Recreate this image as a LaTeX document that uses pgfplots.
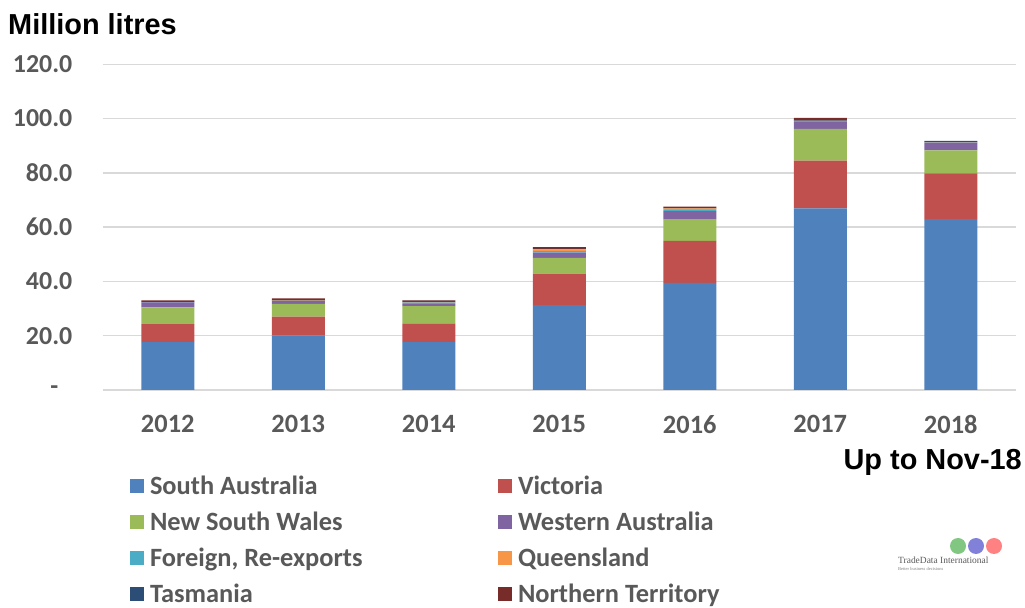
\documentclass[border=0pt]{standalone}
\usepackage{pgfplots}
\pgfplotsset{compat=1.18}
\usepackage{fontspec}
\setmainfont{Carlito}
\newfontfamily\arialfont{Liberation Sans}
\newfontfamily\seriffont{Liberation Serif}
\definecolor{cSA}{HTML}{4F81BD}
\definecolor{cVIC}{HTML}{C0504D}
\definecolor{cNSW}{HTML}{9BBB59}
\definecolor{cWA}{HTML}{8064A2}
\definecolor{cFOR}{HTML}{4BACC6}
\definecolor{cQLD}{HTML}{F79646}
\definecolor{cTAS}{HTML}{2C4D75}
\definecolor{cNT}{HTML}{772C2A}
\definecolor{labgray}{HTML}{595959}
\definecolor{gridgray}{HTML}{D9D9D9}
\begin{document}
\begin{tikzpicture}
\useasboundingbox (0,0) rectangle (1025bp,608bp);
\begin{axis}[
  at={(102.5bp,218bp)}, anchor=south west,
  scale only axis, width=913.5bp, height=325.7bp,
  ybar stacked, bar width=53bp,
  xmin=-0.5, xmax=6.5, ymin=0, ymax=120,
  xtick={0,...,6}, xticklabels={2012,2013,2014,2015,2016,2017,2018},
  ytick={0,20,...,120}, yticklabels={\makebox[22bp][l]{-},20.0,40.0,60.0,80.0,100.0,120.0},
  axis line style={draw=none},
  major tick length=0pt,
  ymajorgrids, grid style={gridgray, line width=1.5bp},
  ticklabel style={font=\fontsize{26}{30}\selectfont\bfseries, text=labgray, inner sep=0pt},
  xticklabel style={font=\fontsize{26.5}{30}\selectfont\bfseries, anchor=north, yshift=-25bp},
  yticklabel style={anchor=east, xshift=-30bp},
  every axis plot post/.append style={draw=none,
     legend image code/.code={\fill[##1] (0bp,1.5bp) rectangle (14bp,15.5bp);}},
  legend columns=2,
  legend style={at={(0.0301,-0.265)}, anchor=north west, draw=none, fill=none,
     inner sep=0pt, outer sep=0pt, row sep=12bp,
     font=\fontsize{26.5}{30}\selectfont\bfseries, text=labgray,
     nodes={inner sep=0pt, text height=18bp, text depth=6bp, anchor=base west},
     /tikz/every odd column/.append style={column sep=6bp},
     /tikz/every even column/.append style={column sep=0bp}},
  legend cell align=left,
]
% South Australia
\addplot[fill=cSA] coordinates {(0,17.6) (1,20.0) (2,17.6) (3,31.3) (4,39.5) (5,66.9) (6,63.0)};
% Victoria
\addplot[fill=cVIC] coordinates {(0,6.7) (1,7.0) (2,6.8) (3,11.6) (4,15.4) (5,17.6) (6,16.8)};
% New South Wales
\addplot[fill=cNSW] coordinates {(0,6.1) (1,4.7) (2,6.5) (3,5.8) (4,8.1) (5,11.7) (6,8.5)};
% Western Australia
\addplot[fill=cWA] coordinates {(0,1.9) (1,1.0) (2,0.7) (3,1.9) (4,2.9) (5,2.5) (6,2.8)};
% Foreign, Re-exports
\addplot[fill=cFOR] coordinates {(0,0.1) (1,0.1) (2,0.6) (3,0.6) (4,0.5) (5,0.4) (6,0.1)};
% Queensland
\addplot[fill=cQLD] coordinates {(0,0.0) (1,0.1) (2,0.1) (3,0.6) (4,0.5) (5,0.1) (6,0.1)};
% Tasmania
\addplot[fill=cTAS] coordinates {(0,0.1) (1,0.1) (2,0.5) (3,0.2) (4,0.1) (5,0.1) (6,0.5)};
% Northern Territory
\addplot[fill=cNT] coordinates {(0,0.5) (1,0.8) (2,0.2) (3,0.6) (4,0.6) (5,1.0) (6,0.0)};
\addlegendentry{\makebox[348bp][l]{South Australia}}
\addlegendentry{Victoria}
\addlegendentry{\makebox[348bp][l]{New South Wales}}
\addlegendentry{Western Australia}
\addlegendentry{\makebox[348bp][l]{Foreign, Re-exports}}
\addlegendentry{Queensland}
\addlegendentry{\makebox[348bp][l]{Tasmania}}
\addlegendentry{Northern Territory}
\end{axis}
\node[anchor=base west, inner sep=0pt, font=\arialfont\bfseries\fontsize{29}{33}\selectfont] at (8bp,573bp) {Million litres};
\node[anchor=base east, inner sep=0pt, font=\arialfont\bfseries\fontsize{29}{33}\selectfont] at (1022bp,138bp) {Up to Nov-18};
% logo
\fill[green!55!black!70, opacity=0.7] (958bp,62bp) circle (8bp);
\fill[blue!70!black!70, opacity=0.7] (976bp,62bp) circle (8bp);
\fill[red!70, opacity=0.7] (994bp,62bp) circle (8bp);
\node[anchor=base west, inner sep=0pt, text=labgray, font=\seriffont\fontsize{9.5}{10}\selectfont] at (898bp,44bp) {\textsc{TradeData International}};
\node[anchor=base west, inner sep=0pt, text=gray, font=\seriffont\fontsize{4.5}{5}\selectfont] at (898bp,38bp) {Better business decisions};
\end{tikzpicture}
\end{document}
